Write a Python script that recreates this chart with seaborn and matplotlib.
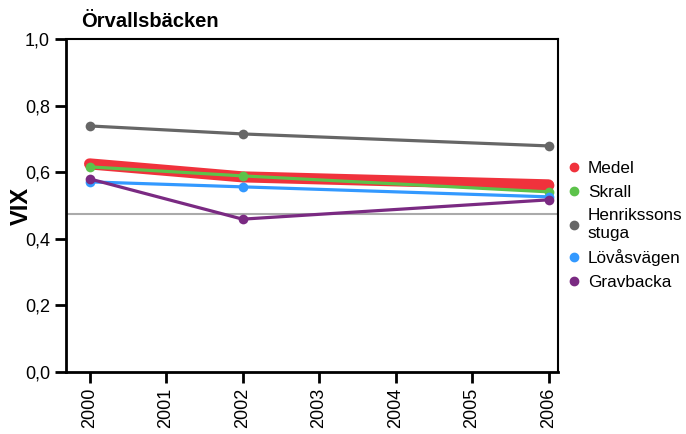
import pandas as pd
import matplotlib.pyplot as plt
import matplotlib.ticker as mticker
import seaborn as sns

# Data
years = [2000, 2002, 2006]
medel = [0.625, 0.586, 0.562]
skrall = [0.616, 0.589, 0.541]
henrikssons = [0.739, 0.715, 0.679]
lovasvagen = [0.571, 0.556, 0.526]
gravbacka = [0.580, 0.459, 0.517]
ref_level = 0.474

series = ['Medel', 'Skrall', 'Henrikssons\nstuga', 'Lövåsvägen', 'Gravbacka']
colors = ['#f0323c', '#5cc24a', '#666666', '#3399ff', '#7a2a82']
widths = [8, 2.3, 2.3, 2.3, 2.3]

data = pd.DataFrame({'year': years * 5,
                     'vix': medel + skrall + henrikssons + lovasvagen + gravbacka,
                     'site': [s for s in series for _ in years]})

sns.set_style('white')
plt.rcParams['font.family'] = ['Liberation Sans', 'DejaVu Sans']
plt.rcParams['text.color'] = 'black'
plt.rcParams['axes.labelcolor'] = 'black'
plt.rcParams['xtick.color'] = 'black'
plt.rcParams['ytick.color'] = 'black'

fig, ax = plt.subplots(figsize=(6.86, 4.34), dpi=100)
ax.axhline(ref_level, color='#aaaaaa', lw=1.5, zorder=1)

for name, col, lw in zip(series, colors, widths):
    sub = data[data['site'] == name]
    sns.lineplot(data=sub, x='year', y='vix', ax=ax, color=col, linewidth=lw,
                 marker='o', markersize=7, markeredgewidth=0, label=name)

ax.set_xlim(1999.69, 2006.12)
ax.set_ylim(0, 1.0)
ax.set_xticks(range(2000, 2007))
ax.set_yticks([0, 0.2, 0.4, 0.6, 0.8, 1.0])
ax.yaxis.set_major_formatter(mticker.FuncFormatter(lambda v, p: f'{v:.1f}'.replace('.', ',')))
ax.tick_params(axis='x', labelrotation=90, labelsize=13, length=8, width=2, direction='out', bottom=True)
ax.tick_params(axis='y', labelsize=13, length=8, width=2, direction='out', left=True)
for sp in ax.spines.values():
    sp.set_color('black')
ax.spines['left'].set_linewidth(2)
ax.spines['bottom'].set_linewidth(2)
ax.spines['top'].set_linewidth(1.5)
ax.spines['right'].set_linewidth(1.5)

ax.set_xlabel('')
ax.set_ylabel('VIX', fontsize=17, fontweight='bold', labelpad=-6)
ax.text(0.032, 1.025, 'Örvallsbäcken', transform=ax.transAxes, fontsize=14.5,
        fontweight='bold', ha='left', va='bottom')

handles, labels = ax.get_legend_handles_labels()
mk = [plt.Line2D([], [], ls='', marker='o', color=c, markersize=6) for c in colors]
ax.legend(mk, labels, loc='center left', bbox_to_anchor=(0.985, 0.44), frameon=False,
          fontsize=12.3, handletextpad=0.3, labelspacing=0.5, handlelength=1.0)

plt.subplots_adjust(left=0.096, right=0.813, top=0.91, bottom=0.143)
plt.savefig('out.png', dpi=100)
